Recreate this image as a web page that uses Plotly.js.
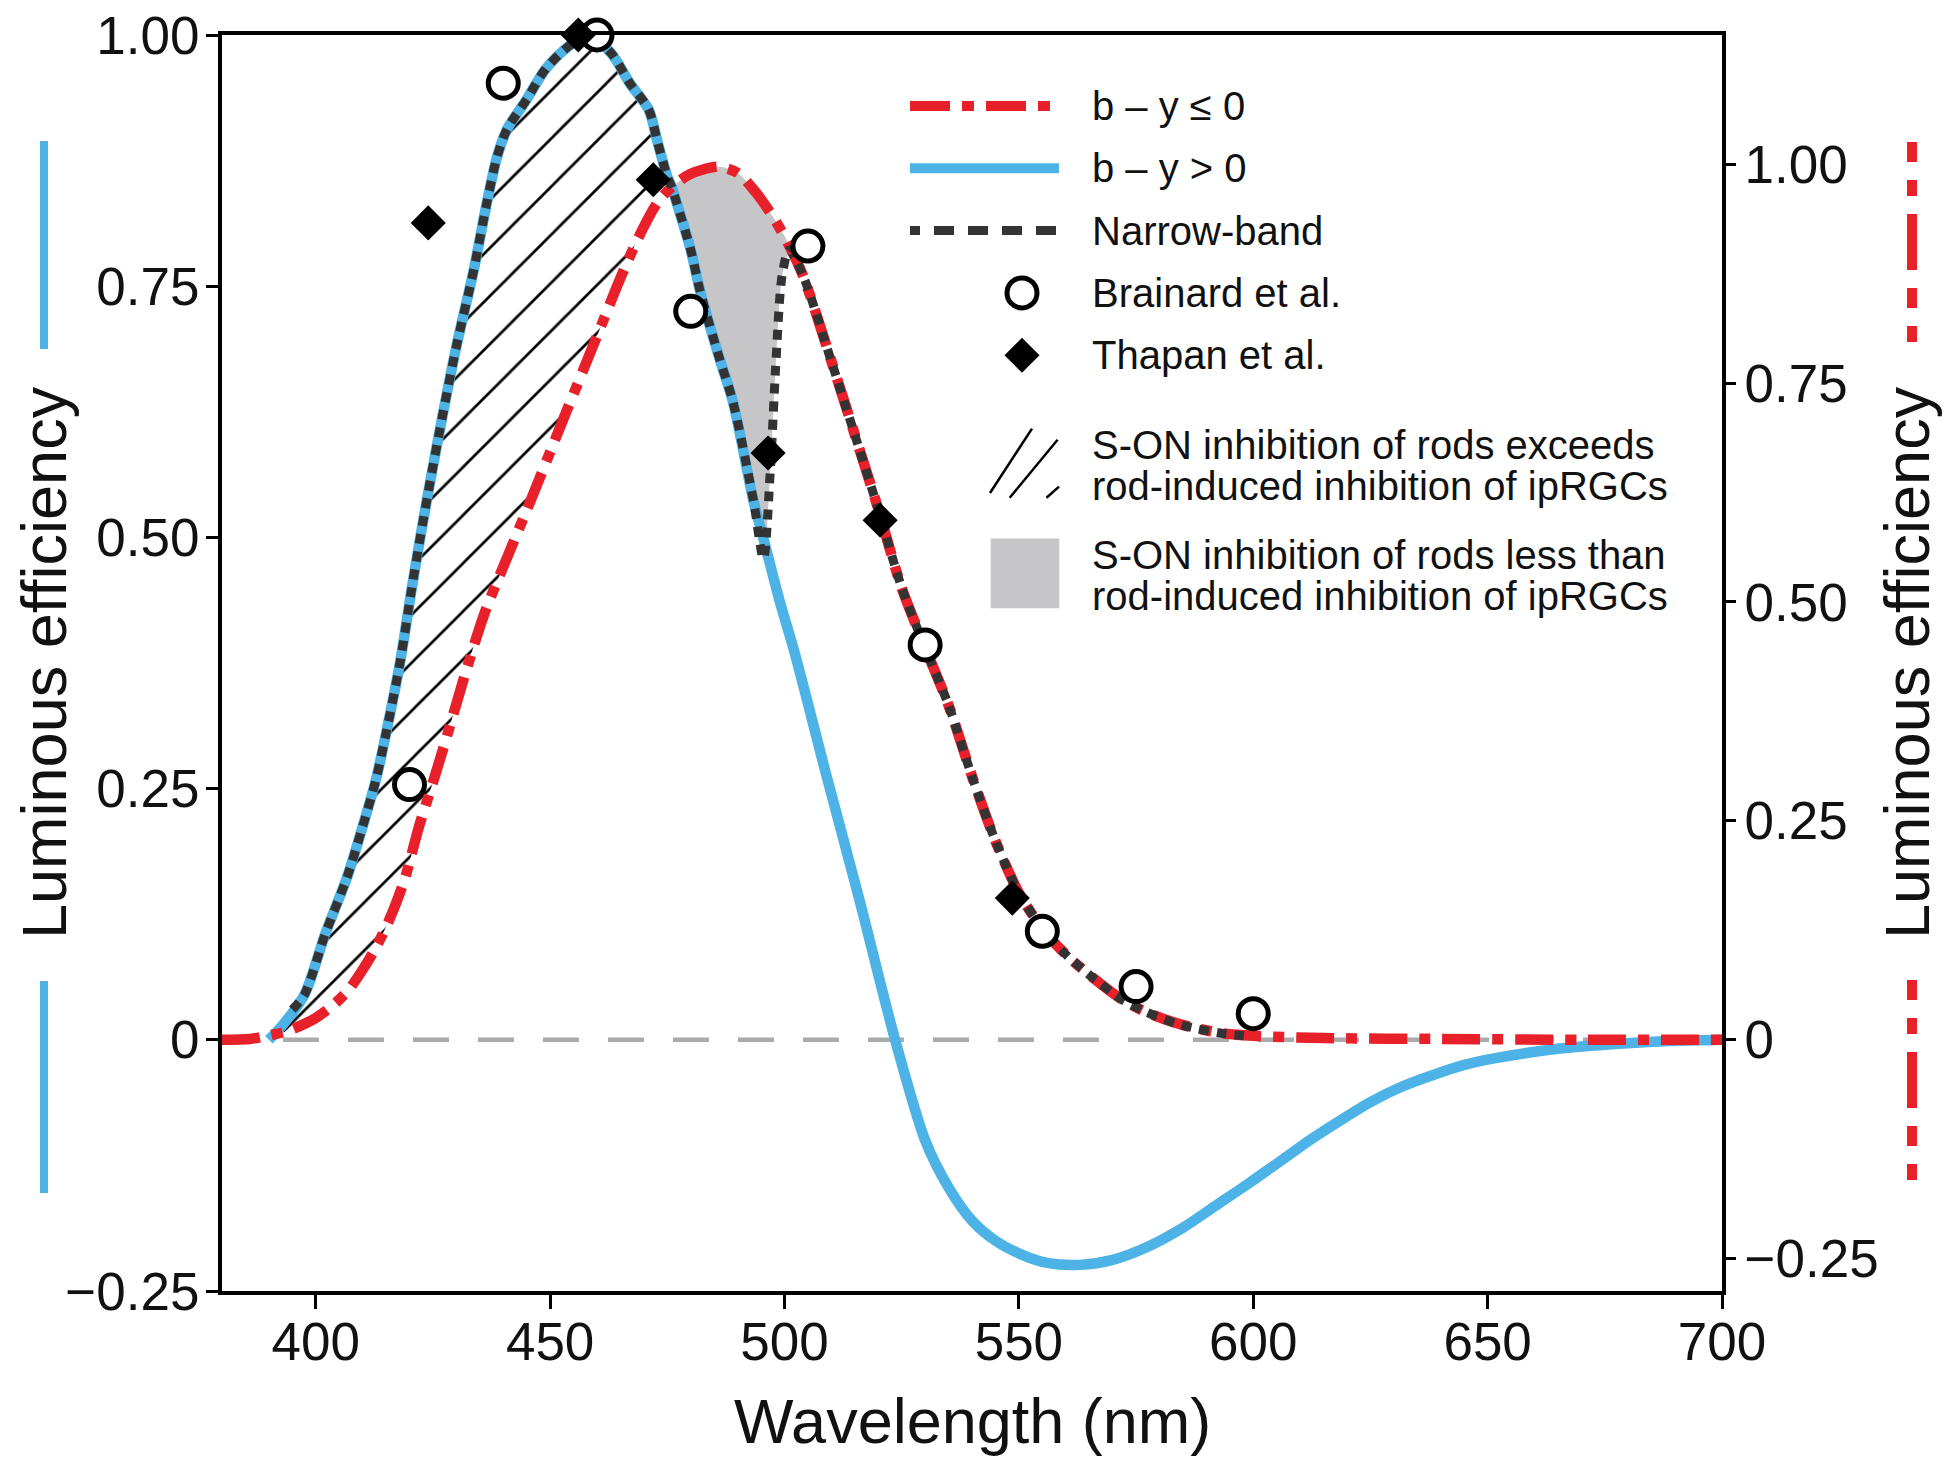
<!DOCTYPE html>
<html>
<head>
<meta charset="utf-8">
<script src="https://cdn.plot.ly/plotly-3.0.1.min.js"></script>
<style>html,body{margin:0;padding:0;background:#fff;}#chart{width:1954px;height:1471px;}</style>
</head>
<body>
<div id="chart"></div>
<script>
// ---------- data ----------
// b - y > 0 curve (left axis)
const blueWavelength = [390, 393, 397.6, 402, 406.7, 409.8, 412.8, 415, 418, 420.4, 422.3, 424, 427, 430, 433.7, 436.5, 438.7, 440.8, 445, 449, 454, 458, 463, 467, 471, 473, 475, 476, 477, 480, 482, 486, 489, 493.4, 496, 499, 502, 509, 516, 523.6, 530, 535, 540, 545, 550.7, 556, 563, 570, 577, 585, 592, 599, 606, 612, 619, 625, 632, 639, 645, 652, 665, 678, 690, 700];
const blueEfficiency = [0, 0.015, 0.045, 0.105, 0.162, 0.209, 0.258, 0.305, 0.376, 0.447, 0.50, 0.545, 0.62, 0.69, 0.766, 0.833, 0.879, 0.906, 0.936, 0.966, 0.989, 1.0, 0.982, 0.952, 0.926, 0.892, 0.859, 0.848, 0.833, 0.786, 0.745, 0.68, 0.635, 0.536, 0.49, 0.436, 0.388, 0.262, 0.139, 0, -0.100, -0.147, -0.180, -0.200, -0.214, -0.222, -0.224, -0.219, -0.207, -0.187, -0.165, -0.143, -0.120, -0.100, -0.079, -0.062, -0.046, -0.034, -0.025, -0.018, -0.009, -0.004, -0.001, 0];

// b - y <= 0 curve (right axis)
const redWavelength = [380, 386, 390, 394, 400, 404, 407, 410, 413, 416, 419, 422, 425, 428, 432, 436, 441, 446, 452, 457, 461, 465, 469, 473, 476, 480, 486, 490, 494, 498, 501, 504, 510, 515, 520, 525, 530, 535, 540, 545, 550, 555, 560, 566, 572, 577, 583, 588, 594, 600, 615, 640, 670, 700];
const redEfficiency = [0, 0.001, 0.005, 0.010, 0.025, 0.041, 0.057, 0.080, 0.107, 0.141, 0.184, 0.243, 0.294, 0.347, 0.420, 0.487, 0.553, 0.618, 0.698, 0.764, 0.817, 0.870, 0.918, 0.957, 0.974, 0.989, 0.997, 0.990, 0.967, 0.936, 0.907, 0.872, 0.775, 0.691, 0.606, 0.516, 0.448, 0.382, 0.301, 0.227, 0.168, 0.127, 0.0975, 0.070, 0.046, 0.032, 0.020, 0.013, 0.007, 0.0045, 0.002, 0.001, 0, 0];

// Narrow-band curve (left axis)
const narrowWavelength = [395, 397.6, 402, 406.7, 409.8, 412.8, 415, 418, 420.4, 422.3, 424, 427, 430, 433.7, 436.5, 438.7, 440.8, 445, 449, 454, 458, 463, 467, 471, 473, 475, 476, 477, 480, 482, 486, 489, 493.4, 495.5, 497, 498.1, 499.5, 501, 504, 510, 515, 520, 525, 530, 535, 540, 545, 550, 555, 560, 566, 572, 577, 583, 588, 594, 598];
const narrowEfficiency = [0.03, 0.045, 0.105, 0.162, 0.209, 0.258, 0.305, 0.376, 0.447, 0.50, 0.545, 0.62, 0.69, 0.766, 0.833, 0.879, 0.906, 0.936, 0.966, 0.989, 1.0, 0.982, 0.952, 0.926, 0.892, 0.859, 0.848, 0.833, 0.786, 0.745, 0.68, 0.635, 0.536, 0.479, 0.569, 0.668, 0.761, 0.786, 0.760, 0.675, 0.602, 0.528, 0.450, 0.390, 0.333, 0.262, 0.198, 0.146, 0.111, 0.085, 0.061, 0.040, 0.028, 0.017, 0.011, 0.006, 0.004];

// Brainard et al. (open circles)
const brainardWavelength = [420, 440, 460, 480, 505, 530, 555, 575, 600];
const brainardEfficiency = [0.254, 0.952, 1.0, 0.725, 0.79, 0.393, 0.108, 0.053, 0.026];

// Thapan et al. (filled diamonds)
const thapanWavelength = [424, 456, 472, 496.5, 520.4, 548.6];
const thapanEfficiency = [0.813, 1.0, 0.856, 0.584, 0.517, 0.141];

// ticks
const xTickValues = [400, 450, 500, 550, 600, 650, 700];
const yTickValues = [-0.25, 0, 0.25, 0.5, 0.75, 1.0];
const yTickLabels = ['\u22120.25', '0', '0.25', '0.50', '0.75', '1.00'];

// legend labels
const legendLabels = ['b \u2013 y \u2264 0', 'b \u2013 y > 0', 'Narrow-band', 'Brainard et al.', 'Thapan et al.'];
const hatchLabel = ['S-ON inhibition of rods exceeds', 'rod-induced inhibition of ipRGCs'];
const grayLabel = ['S-ON inhibition of rods less than', 'rod-induced inhibition of ipRGCs'];
const axisTitleX = 'Wavelength (nm)';
const axisTitleY = 'Luminous efficiency';

// ---------- layout constants ----------
const leftRange = [-0.25, 1.0];
const rightScale = 1.1475; // right-axis units per left-axis unit
const rightRange = [leftRange[0] * rightScale, leftRange[1] * rightScale];

const BLUE = '#4db3e6';
const RED = '#e8202a';
const DARK = '#333333';
const GRAY = '#c6c6c8';
const FONT = 'Liberation Sans, Arial, sans-serif';

// ---------- fill polygons built from the curves ----------
const crossWl = 476;
const endGrayWl = 501;
const toLeft = v => v / rightScale;

const hatchX = [], hatchY = [];
blueWavelength.forEach((w, i) => { if (w <= crossWl) { hatchX.push(w); hatchY.push(blueEfficiency[i]); } });
for (let i = redWavelength.length - 1; i >= 0; i--) {
  if (redWavelength[i] <= crossWl && redWavelength[i] >= 390) { hatchX.push(redWavelength[i]); hatchY.push(toLeft(redEfficiency[i])); }
}

const grayX = [], grayY = [];
redWavelength.forEach((w, i) => { if (w >= crossWl && w <= endGrayWl) { grayX.push(w); grayY.push(toLeft(redEfficiency[i])); } });
for (let i = narrowWavelength.length - 1; i >= 0; i--) {
  const w = narrowWavelength[i];
  if (w >= crossWl && w <= endGrayWl) { grayX.push(w); grayY.push(narrowEfficiency[i]); }
}

const traces = [
  { x: hatchX, y: hatchY, type: 'scatter', mode: 'lines', fill: 'toself',
    fillcolor: 'rgba(0,0,0,0)', line: { width: 0, shape: 'spline', smoothing: 0.8 },
    fillpattern: { shape: '/', size: 34, solidity: 0.08, fgcolor: '#000000', bgcolor: 'rgba(0,0,0,0)' },
    hoverinfo: 'skip', showlegend: false },
  { x: grayX, y: grayY, type: 'scatter', mode: 'lines', fill: 'toself',
    fillcolor: GRAY, line: { width: 0, shape: 'spline', smoothing: 0.8 }, hoverinfo: 'skip', showlegend: false },
  { x: blueWavelength, y: blueEfficiency, type: 'scatter', mode: 'lines',
    line: { color: BLUE, width: 10.5, shape: 'spline', smoothing: 0.8 }, name: legendLabels[1], showlegend: false },
  { x: redWavelength, y: redEfficiency, yaxis: 'y2', type: 'scatter', mode: 'lines',
    line: { color: RED, width: 10.5, dash: '38px,12px,11px,12px', shape: 'spline', smoothing: 0.8 }, name: legendLabels[0], showlegend: false },
  { x: narrowWavelength, y: narrowEfficiency, yaxis: 'y3', type: 'scatter', mode: 'lines',
    line: { color: DARK, width: 9, dash: '10px,8px', shape: 'spline', smoothing: 0.8 }, name: legendLabels[2], showlegend: false },
  { x: brainardWavelength, y: brainardEfficiency, yaxis: 'y3', type: 'scatter', mode: 'markers',
    marker: { symbol: 'circle', size: 30, color: '#ffffff', line: { color: '#000000', width: 5 } },
    name: legendLabels[3], showlegend: false, cliponaxis: false },
  { x: thapanWavelength, y: thapanEfficiency, yaxis: 'y3', type: 'scatter', mode: 'markers',
    marker: { symbol: 'diamond', size: 27, color: '#000000', line: { width: 0 } },
    name: legendLabels[4], showlegend: false, cliponaxis: false }
];

// paper helpers (plot area: x 222..1722, y 35..1291 px)
const PL = 222, PW = 1500, PB = 1291, PH = 1256;
const px = X => (X - PL) / PW;
const py = Y => (PB - Y) / PH;

const legendRowsY = [105.9, 168.2, 230.5, 292.9, 355.2];
const shapes = [
  // zero reference line
  { type: 'line', xref: 'x', yref: 'y', x0: 393, x1: 700, y0: 0, y1: 0, layer: 'below',
    line: { color: '#aaaaaa', width: 4.5, dash: '36px,29px' } },
  // legend swatches
  { type: 'line', xref: 'paper', yref: 'paper', x0: px(910), x1: px(1059), y0: py(legendRowsY[0]), y1: py(legendRowsY[0]),
    line: { color: RED, width: 10, dash: '40px,12px,12px,12px' } },
  { type: 'line', xref: 'paper', yref: 'paper', x0: px(910), x1: px(1059), y0: py(legendRowsY[1]), y1: py(legendRowsY[1]),
    line: { color: BLUE, width: 10 } },
  { type: 'line', xref: 'paper', yref: 'paper', x0: px(910), x1: px(1059), y0: py(legendRowsY[2]), y1: py(legendRowsY[2]),
    line: { color: DARK, width: 9, dash: '10px,14px,20px,14px,20px,14px,20px,14px,20px,14px' } },
  { type: 'circle', xref: 'paper', yref: 'paper', x0: px(1022 - 15), x1: px(1022 + 15), y0: py(292.9 + 15), y1: py(292.9 - 15),
    fillcolor: '#ffffff', line: { color: '#000000', width: 5 } },
  { type: 'path', xref: 'paper', yref: 'paper',
    path: 'M' + px(1004.5) + ',' + py(355.2) + ' L' + px(1022) + ',' + py(337.7) + ' L' + px(1039.5) + ',' + py(355.2) + ' L' + px(1022) + ',' + py(372.7) + ' Z',
    fillcolor: '#000000', line: { width: 0 } },
  { type: 'line', xref: 'paper', yref: 'paper', x0: px(990), y0: py(493), x1: px(1032), y1: py(428.6), line: { color: '#000', width: 2.5 } },
  { type: 'line', xref: 'paper', yref: 'paper', x0: px(1009.7), y0: py(497.8), x1: px(1057.6), y1: py(439.7), line: { color: '#000', width: 2.5 } },
  { type: 'line', xref: 'paper', yref: 'paper', x0: px(1046.5), y0: py(497.8), x1: px(1059), y1: py(486.6), line: { color: '#000', width: 2.5 } },
  { type: 'rect', xref: 'paper', yref: 'paper', x0: px(990.7), x1: px(1059.3), y0: py(608.2), y1: py(538.4),
    fillcolor: GRAY, line: { width: 0 } },
  // colour keys beside the axis titles
  { type: 'line', xref: 'paper', yref: 'paper', x0: px(44), x1: px(44), y0: py(141), y1: py(349), line: { color: BLUE, width: 8 } },
  { type: 'line', xref: 'paper', yref: 'paper', x0: px(44), x1: px(44), y0: py(981), y1: py(1193), line: { color: BLUE, width: 8 } },
  { type: 'line', xref: 'paper', yref: 'paper', x0: px(1912), x1: px(1912), y0: py(142), y1: py(349), line: { color: RED, width: 10, dash: '20px,18px,16px,18px,56px,18px' } },
  { type: 'line', xref: 'paper', yref: 'paper', x0: px(1912), x1: px(1912), y0: py(980), y1: py(1190), line: { color: RED, width: 10, dash: '20px,18px,16px,18px,56px,18px' } }
];

const textX = px(1090.4);
const ann = (text, x, y, extra) => Object.assign({ text: text, x: x, y: y, xref: 'paper', yref: 'paper', showarrow: false,
  xanchor: 'left', yanchor: 'middle', font: { family: FONT, size: 40, color: '#111111' } }, extra || {});

const annotations = [
  ann(legendLabels[0], textX, py(legendRowsY[0])),
  ann(legendLabels[1], textX, py(legendRowsY[1])),
  ann(legendLabels[2], textX, py(legendRowsY[2])),
  ann(legendLabels[3], textX, py(legendRowsY[3])),
  ann(legendLabels[4], textX, py(legendRowsY[4])),
  ann(hatchLabel[0], textX, py(444.9)),
  ann(hatchLabel[1], textX, py(486)),
  ann(grayLabel[0], textX, py(554.6)),
  ann(grayLabel[1], textX, py(595.7)),
  ann(axisTitleX, 0.5, py(1421), { xanchor: 'center', font: { family: FONT, size: 63, color: '#111111' } }),
  ann(axisTitleY, px(44), 0.5, { xanchor: 'center', textangle: -90, font: { family: FONT, size: 63, color: '#111111' } }),
  ann(axisTitleY, px(1907), 0.5, { xanchor: 'center', textangle: -90, font: { family: FONT, size: 63, color: '#111111' } })
];

const tickFont = { family: FONT, size: 53, color: '#111111' };
const layout = {
  width: 1954, height: 1471,
  margin: { l: 222, r: 232, t: 35, b: 180, autoexpand: false },
  paper_bgcolor: '#ffffff', plot_bgcolor: '#ffffff',
  showlegend: false,
  xaxis: { range: [380, 700], tickvals: xTickValues, ticktext: xTickValues.map(String),
    showgrid: false, zeroline: false, showline: true, linecolor: '#000', linewidth: 4, mirror: true,
    ticks: 'outside', ticklen: 14, tickwidth: 3, tickcolor: '#000', tickfont: tickFont, ticklabelstandoff: -13 },
  yaxis: { range: leftRange, tickvals: yTickValues, ticktext: yTickLabels,
    showgrid: false, zeroline: false, showline: true, linecolor: '#000', linewidth: 4,
    ticks: 'outside', ticklen: 12, tickwidth: 3, tickcolor: '#000', tickfont: tickFont, ticklabelstandoff: -4 },
  yaxis2: { range: rightRange, overlaying: 'y', side: 'right', tickvals: yTickValues, ticktext: yTickLabels,
    showgrid: false, zeroline: false, showline: true, linecolor: '#000', linewidth: 4,
    ticks: 'outside', ticklen: 10, tickwidth: 3, tickcolor: '#000', tickfont: tickFont, ticklabelstandoff: -2 },
  yaxis3: { range: leftRange, overlaying: 'y', visible: false, showgrid: false, zeroline: false },
  shapes: shapes,
  annotations: annotations
};

Plotly.newPlot('chart', traces, layout, { staticPlot: true, displayModeBar: false });
</script>
</body>
</html>
